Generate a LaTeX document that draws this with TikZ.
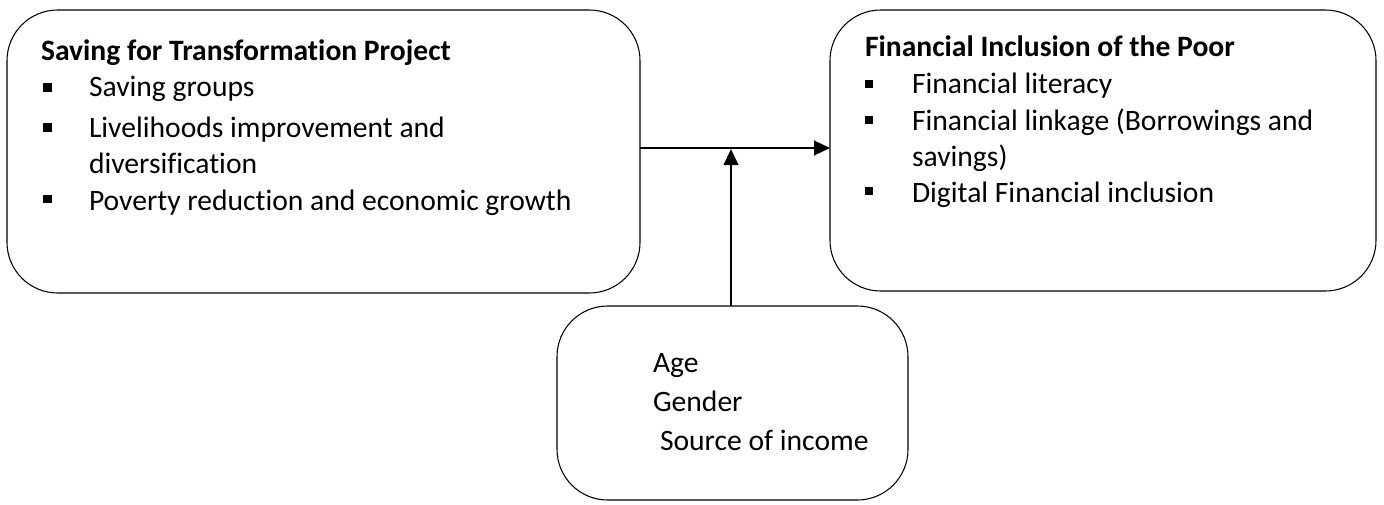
\documentclass[tikz,border=0pt]{standalone}
\usepackage{fontspec}
\setmainfont[Ligatures={NoCommon}]{Carlito}
\usetikzlibrary{arrows.meta}
\begin{document}
\begin{tikzpicture}[x=0.75pt,y=-0.75pt,
  box/.style={draw=black,line width=0.8pt,rounded corners=38pt,inner sep=0pt,outer sep=0pt},
  txt/.style={anchor=base west,inner sep=0pt,outer sep=0pt,font=\fontsize{22.2}{26}\selectfont},
  ttl/.style={txt,font=\fontsize{22.2}{26}\selectfont\bfseries},
  bul/.style={fill=black,inner sep=0pt,outer sep=0pt,minimum size=6.5pt},
  arr/.style={line width=1.7pt,-{Triangle[length=12pt,width=11pt]}}]
\useasboundingbox (0,0) rectangle (1384,504);
% boxes
\node[box,minimum width=474.75pt,minimum height=212.25pt] (L) at (323.5,151.5) {};
\node[box,minimum width=409.5pt,minimum height=210.75pt] (R) at (1103,150.5) {};
\node[box,minimum width=263.25pt,minimum height=145.5pt] (B) at (732.5,403) {};
% left text
\node[ttl] (lt) at (41,60) {Saving for Transformation Project};
\node[bul] (lb1) at (47.5,87.5) {};
\node[txt] (l1) at (89,96) {Saving groups};
\node[bul] (lb2) at (47.5,127.5) {};
\node[txt] (l2) at (89,137) {Livelihoods improvement and};
\node[txt] (l2b) at (89,173) {diversification};
\node[bul] (lb3) at (47.5,199) {};
\node[txt] (l3) at (89,210) {Poverty reduction and economic growth};
% right text
\node[ttl] (rt) at (865,56) {Financial Inclusion of the Poor};
\node[bul] (rb1) at (869,84) {};
\node[txt] (r1) at (912,93) {Financial literacy};
\node[bul] (rb2) at (869,120) {};
\node[txt] (r2) at (912,130) {Financial linkage (Borrowings and};
\node[txt] (r2b) at (912,166) {savings)};
\node[bul] (rb3) at (869,191) {};
\node[txt] (r3) at (912,202) {Digital Financial inclusion};
% bottom text
\node[txt] (b1) at (653,372) {Age};
\node[txt] (b2) at (653,411) {Gender};
\node[txt] (b3) at (660,450) {Source of income};
% connectors
\coordinate (J) at (731,148);
\draw[arr] (L.east |- J) -- (R.west |- J);
\draw[arr] (B.north -| J) -- ([yshift=-0.8pt]J);
\end{tikzpicture}
\end{document}
